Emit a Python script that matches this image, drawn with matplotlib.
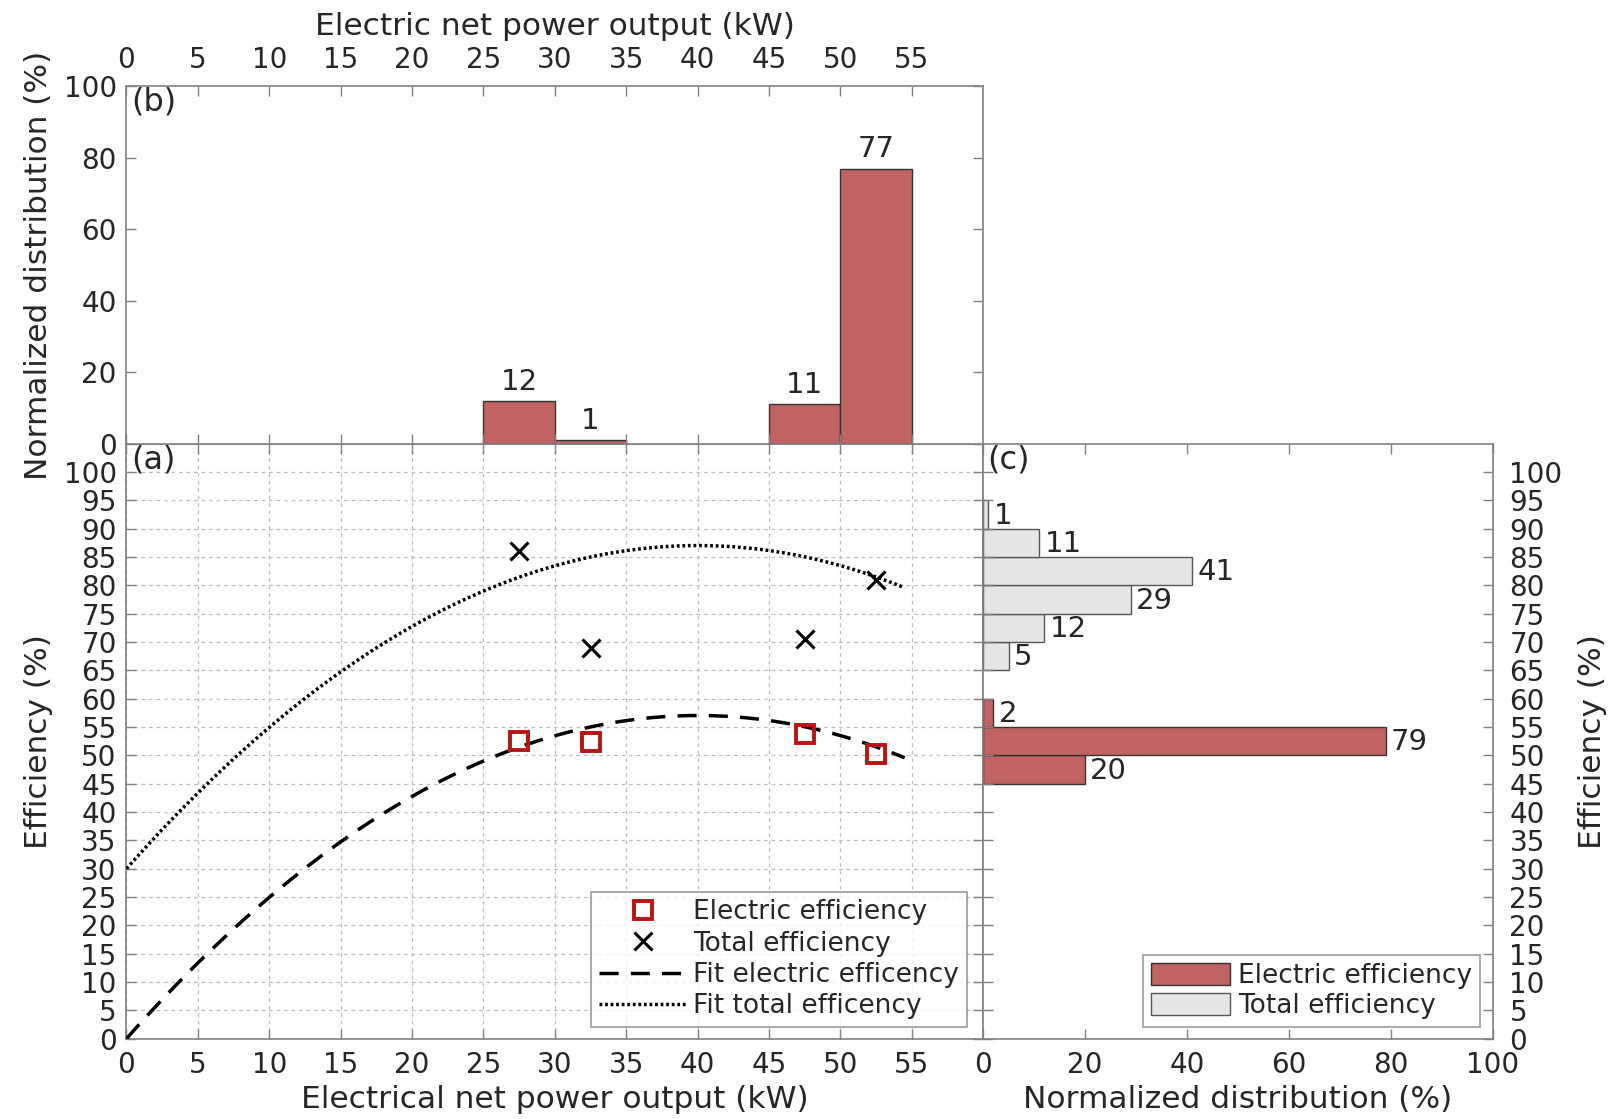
import numpy as np
import matplotlib.pyplot as plt

# measured points (kW, %)
power_kw = [27.5, 32.5, 47.5, 52.5]
elec_eff = [52.5, 52.3, 53.8, 50.3]
total_eff = [86.0, 69.0, 70.5, 81.0]

# quadratic fit coefficients (highest power first)
fit_elec_coef = [-0.0356, 2.85, 0.0]
fit_total_coef = [-0.0356, 2.85, 30.0]
fit_x_max = 54.5

# (b) distribution over power bins
power_bins = [25, 30, 45, 50]
power_dist = [12, 1, 11, 77]

# (c) distribution over efficiency bins
total_bins = [65, 70, 75, 80, 85, 90]
total_dist = [5, 12, 29, 41, 11, 1]
elec_bins = [45, 50, 55]
elec_dist = [20, 79, 2]

red = '#c16362'
gray_fill = '#e6e6e6'
spine_col = '#808080'
txt_col = '#262626'
fs_tick = 20
fs_lab = 22.5
fs_ann = 21
fs_leg = 19
fs_panel = 23

plt.rcParams['font.family'] = 'DejaVu Sans'
plt.rcParams['text.color'] = txt_col


def style_axes(ax):
    for s in ax.spines.values():
        s.set_color(spine_col)
        s.set_linewidth(1.2)
    ax.tick_params(direction='in', length=7, width=1, color=spine_col,
                   labelsize=fs_tick, labelcolor=txt_col,
                   top=True, bottom=True, left=True, right=True)
    ax.tick_params(axis='x', pad=9)
    ax.tick_params(axis='y', pad=7)


fig = plt.figure(figsize=(16.11, 11.19), dpi=100)
ax_a = fig.add_axes([0.0785, 0.0718, 0.5318, 0.5316])
ax_b = fig.add_axes([0.0785, 0.6034, 0.5318, 0.3195])
ax_c = fig.add_axes([0.6103, 0.0718, 0.3163, 0.5316])
for ax in (ax_a, ax_b, ax_c):
    style_axes(ax)

# ---- (a) efficiency vs power
xf = np.linspace(0, fit_x_max, 200)
ax_a.plot(xf, np.polyval(fit_elec_coef, xf), color='black', lw=2.5,
          ls=(0, (5.5, 3.5)), label='Fit electric efficency', zorder=3)
ax_a.plot(xf, np.polyval(fit_total_coef, xf), color='black', lw=2.5,
          ls=(0, (0.8, 0.8)), label='Fit total efficency', zorder=3)
ax_a.plot(power_kw, elec_eff, ls='none', marker='s', ms=13.5,
          mfc='none', mec='#b81414', mew=2.8, label='Electric efficiency', zorder=4)
ax_a.plot(power_kw, total_eff, ls='none', marker='x', ms=13,
          mec='black', mew=2.2, label='Total efficiency', zorder=4)
ax_a.set_xlim(0, 60)
ax_a.set_ylim(0, 105)
ax_a.set_xticks(np.arange(0, 56, 5))
ax_a.set_yticks(np.arange(0, 101, 5))
ax_a.grid(True, color='#bdbdbd', ls=(0, (3, 3)), lw=0.9)
ax_a.set_axisbelow(True)
ax_a.set_xlabel('Electrical net power output (kW)', fontsize=fs_lab, color=txt_col, labelpad=4)
ax_a.set_ylabel('Efficiency (%)', fontsize=fs_lab, color=txt_col, labelpad=8)
ax_a.text(0.006, 0.998, '(a)', transform=ax_a.transAxes, fontsize=fs_panel, va='top')
hl = ax_a.get_legend_handles_labels()
order = [2, 3, 0, 1]
leg = ax_a.legend([hl[0][i] for i in order], [hl[1][i] for i in order],
                  loc='lower right', bbox_to_anchor=(0.99, 0.006), fontsize=fs_leg,
                  frameon=True, fancybox=False, edgecolor=spine_col, handlelength=3.3,
                  handletextpad=0.25, borderpad=0.3, borderaxespad=0.3, labelspacing=0.2)
leg.get_frame().set_linewidth(1.2)

# ---- (b) power distribution
ax_b.bar(power_bins, power_dist, width=5, align='edge', color=red,
         edgecolor='#333333', lw=1)
for x, v in zip(power_bins, power_dist):
    ax_b.text(x + 2.5, v + 1.5, str(v), ha='center', va='bottom', fontsize=fs_ann)
ax_b.set_xlim(0, 60)
ax_b.set_ylim(0, 100)
ax_b.set_xticks(np.arange(0, 56, 5))
ax_b.set_yticks(np.arange(0, 101, 20))
ax_b.xaxis.tick_top()
ax_b.xaxis.set_label_position('top')
ax_b.tick_params(top=True, bottom=True, labeltop=True, labelbottom=False)
ax_b.set_xlabel('Electric net power output (kW)', fontsize=fs_lab, color=txt_col, labelpad=8)
ax_b.set_ylabel('Normalized distribution (%)', fontsize=fs_lab, color=txt_col, labelpad=8)
ax_b.text(0.006, 0.998, '(b)', transform=ax_b.transAxes, fontsize=fs_panel, va='top')

# ---- (c) efficiency distribution
ax_c.barh(elec_bins, elec_dist, height=5, align='edge', color=red,
          edgecolor='#333333', lw=1, label='Electric efficiency')
ax_c.barh(total_bins, total_dist, height=5, align='edge', color=gray_fill,
          edgecolor='#555555', lw=1, label='Total efficiency')
for y, v in zip(elec_bins + total_bins, elec_dist + total_dist):
    ax_c.text(v + 1.0, y + 2.3, str(v), ha='left', va='center', fontsize=fs_ann)
ax_c.set_xlim(0, 100)
ax_c.set_ylim(0, 105)
ax_c.set_xticks(np.arange(0, 101, 20))
ax_c.set_yticks(np.arange(0, 101, 5))
ax_c.yaxis.tick_right()
ax_c.yaxis.set_label_position('right')
ax_c.tick_params(left=True, right=True, labelleft=False, labelright=True)
ax_c.tick_params(axis='y', pad=12)
ax_c.set_xlabel('Normalized distribution (%)', fontsize=fs_lab, color=txt_col, labelpad=4)
ax_c.set_ylabel('Efficiency (%)', fontsize=fs_lab, color=txt_col, labelpad=11)
ax_c.text(0.008, 0.998, '(c)', transform=ax_c.transAxes, fontsize=fs_panel, va='top')
leg2 = ax_c.legend(loc='lower right', bbox_to_anchor=(0.99, 0.006), fontsize=fs_leg,
                   frameon=True, fancybox=False, edgecolor=spine_col, handlelength=3.0,
                   handleheight=0.9, handletextpad=0.3, borderpad=0.3, borderaxespad=0.3,
                   labelspacing=0.15)
leg2.get_frame().set_linewidth(1.2)

fig.savefig('out.png', dpi=100, facecolor='white')
